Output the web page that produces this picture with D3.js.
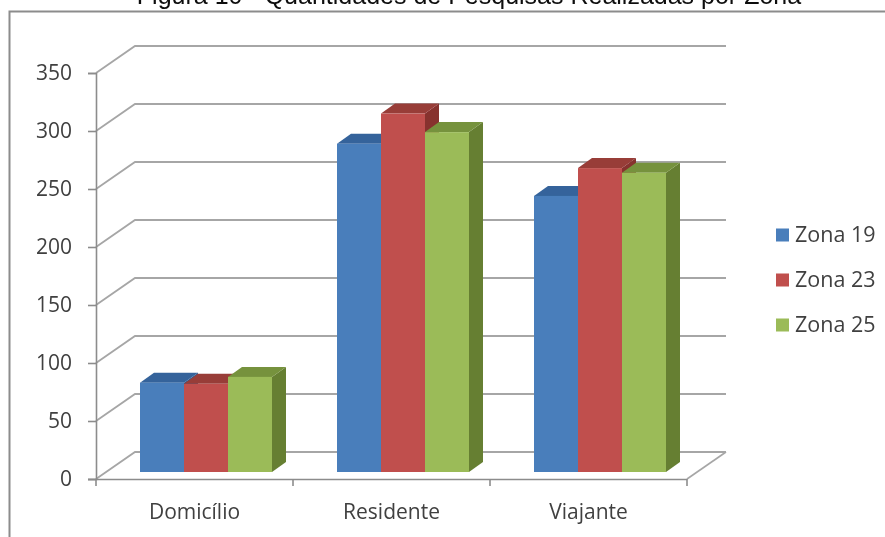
<!DOCTYPE html>
<html><head><meta charset="utf-8">
<script src="https://cdn.jsdelivr.net/npm/d3@7/dist/d3.min.js"></script>
<style>html,body{margin:0;padding:0;background:#fff;overflow:hidden}svg{display:block}</style>
</head><body><svg id="c" width="885" height="537"></svg>
<script>
const categories = ["Domicílio", "Residente", "Viajante"];
const seriesNames = ["Zona 19", "Zona 23", "Zona 25"];
const zona19 = [77, 283, 238];
const zona23 = [76, 309, 262];
const zona25 = [82, 293, 258];
const yTicks = [0, 50, 100, 150, 200, 250, 300, 350];
const titleText = "Figura 10 - Quantidades de Pesquisas Realizadas por Zona";

const colors = ["#4a7ebb", "#c0504d", "#9bbb59"];
const topColors = ["#35649b", "#983c39", "#76923c"];
const sideColors = ["#2f5a8c", "#87302e", "#667f33"];
const seriesValues = [zona19, zona23, zona25];

const root = d3.select("#c");
root.append("defs").append("filter").attr("id", "soft")
  .attr("filterUnits", "userSpaceOnUse").attr("x", 0).attr("y", 0).attr("width", 885).attr("height", 537)
  .append("feGaussianBlur").attr("stdDeviation", 0.55);
const svg = root.append("g").attr("filter", "url(#soft)");

const font = "'Open Sans', 'Noto Sans', sans-serif";
const ink = "#404040", grid = "#a6a6a6";

svg.append("text").attr("x", 469).attr("y", 4).attr("text-anchor", "middle")
  .attr("font-family", "'Liberation Sans', Arial, sans-serif").attr("font-size", 25).attr("fill", "#111").text(titleText);
svg.append("rect").attr("x", 9.5).attr("y", 11.5).attr("width", 900).attr("height", 560)
  .attr("fill", "#fff").attr("stroke", "#8c8c8c").attr("stroke-width", 2);

const y = d3.scaleLinear().domain([0, 350]).range([479, 73]);
const x = d3.scaleBand().domain(categories).range([96, 687]);
const depthX = 39, depthY = -27;
const barW = 44, barDX = 14, barDY = -10, floorDY = -7, barInset = 44;

yTicks.forEach(t => {
  svg.append("path").attr("fill", "none").attr("stroke", grid).attr("stroke-width", 1.8)
    .attr("d", d3.line()([[96, y(t)], [96 + depthX, y(t) + depthY], [726, y(t) + depthY]]));
});
svg.append("path").attr("fill", "none").attr("stroke", grid).attr("stroke-width", 1.6)
  .attr("d", d3.line()([[687, y(0)], [726, y(0) + depthY]]));

const gy = svg.append("g").attr("transform", "translate(96,0)")
  .call(d3.axisLeft(y).tickValues(yTicks).tickSize(8).tickPadding(16));
const gx = svg.append("g").attr("transform", "translate(0,479)")
  .call(d3.axisBottom(x).tickSize(0).tickPadding(25));
[gy, gx].forEach(g => {
  g.selectAll("path").attr("stroke", "#8c8c8c").attr("stroke-width", 1.6);
  g.selectAll("line").attr("stroke", "#8c8c8c").attr("stroke-width", 1.6);
  g.selectAll("text").attr("font-family", font).attr("font-size", 21).attr("fill", ink);
});
gx.selectAll(".domain").attr("d", "M88,0.5H687");
const edges = [...categories.map(c => x(c)), 687];
gx.selectAll(".edge").data(edges).enter().append("line").attr("class", "edge")
  .attr("x1", d => d).attr("x2", d => d).attr("y1", 0).attr("y2", 7)
  .attr("stroke", "#8c8c8c").attr("stroke-width", 1.6);

const h = v => y(0) - y(v);
const base = y(0) + floorDY;
categories.forEach((c, ci) => {
  const x0 = x(c) + barInset;
  seriesValues.forEach((vals, si) => {
    const v = vals[ci], l = x0 + si * barW, r = l + barW, t = base - h(v);
    const g = svg.append("g");
    g.append("path").attr("fill", sideColors[si])
      .attr("d", d3.line()([[r, base], [r + barDX, base + barDY], [r + barDX, t + barDY], [r, t]]) + "Z");
    g.append("path").attr("fill", topColors[si])
      .attr("d", d3.line()([[l, t], [l + barDX, t + barDY], [r + barDX, t + barDY], [r, t]]) + "Z");
    g.append("rect").attr("x", l).attr("y", t).attr("width", barW).attr("height", base - t).attr("fill", colors[si]);
  });
});

const legend = svg.append("g");
seriesNames.forEach((n, i) => {
  const cy = 235 + i * 45;
  legend.append("rect").attr("x", 776).attr("y", cy - 6.5).attr("width", 13).attr("height", 13).attr("fill", colors[i]);
  legend.append("text").attr("x", 795).attr("y", cy + 7).attr("font-family", font).attr("font-size", 21.5).attr("fill", ink).text(n);
});
</script></body></html>
